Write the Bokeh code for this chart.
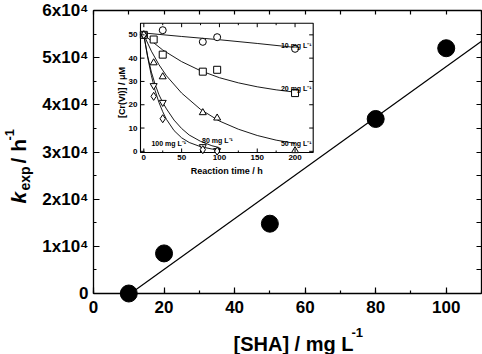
import math
from bokeh.plotting import figure
from bokeh.models import Range1d, LinearAxis, FixedTicker, Label
from bokeh.embed import file_html
from bokeh.resources import INLINE
from bokeh.core.properties import value

# ---------------- main data ----------------
sha = [10, 20, 50, 80, 100]                      # [SHA] / mg L-1
kexp = [0, 8500, 14800, 37000, 52000]            # k_exp / h-1
fit_x = [10.5, 110]                              # linear fit
fit_y = [0, 53500]
x_lim = (0, 110)
y_lim = (0, 60000)
x_ticks = [0, 20, 40, 60, 80, 100]
x_minor = [0, 10, 20, 30, 40, 50, 60, 70, 80, 90, 100, 110]
y_ticks = [0, 10000, 20000, 30000, 40000, 50000, 60000]
y_minor = [0, 5000, 10000, 15000, 20000, 25000, 30000, 35000, 40000, 45000, 50000, 55000, 60000]
y_tick_labels = ["0", "1x10\u2074", "2x10\u2074", "3x10\u2074", "4x10\u2074", "5x10\u2074", "6x10\u2074"]

# ---------------- inset data ----------------
t_10 = [0, 25, 78, 97, 200];          c_10 = [50, 52, 47, 49, 44]
t_20 = [0, 13, 25, 78, 97, 200];      c_20 = [50, 48, 41.5, 34.2, 35, 25]
t_50 = [0, 13, 25, 78, 97, 200];      c_50 = [50, 38, 32, 16.6, 14.3, 0.3]
t_80 = [0, 13, 25, 78, 97];           c_80 = [50, 28.2, 21, 2.0, 0.3]
t_100 = [0, 13, 25, 78, 97];          c_100 = [50, 23.6, 14, 0.7, 0.1]

fit10_t = [0, 50, 100, 150, 200]
fit10_c = [50.8, 49.3, 47.9, 46.3, 44.6]
fit20_t = [0, 25, 50, 75, 100, 125, 150, 175, 200]
fit20_c = [50, 43.5, 38.5, 34.6, 31.6, 29.4, 27.7, 26.4, 25.4]
fit50_t = [0, 10, 20, 30, 50, 75, 100, 125, 150, 175, 200]
fit50_c = [50, 43, 37.2, 32.4, 25, 18, 13, 9.5, 6.8, 4.8, 3.4]
fit80_t = [0, 5, 10, 15, 20, 25, 30, 40, 50, 60, 75, 90, 100]
fit80_c = [50, 41, 34, 28.7, 24.3, 21, 18.2, 13.4, 9.8, 7, 4.3, 2.4, 1.6]
fit100_t = [0, 5, 10, 15, 20, 25, 30, 40, 50, 60, 75, 90, 100]
fit100_c = [50, 40.5, 32.5, 26, 21, 17, 13.7, 8.9, 5.8, 3.8, 2, 1, 0.6]

inset_x_lim = (-4.4, 224)
inset_y_lim = (-0.5, 55)
inset_xticks = [0, 50, 100, 150, 200]
inset_xminor = [25, 75, 125, 175]
inset_yticks = [0, 10, 20, 30, 40, 50]
inset_series_labels = ["10 mg L\u207b\u00b9", "20 mg L\u207b\u00b9", "50 mg L\u207b\u00b9",
                       "80 mg L\u207b\u00b9", "100 mg L\u207b\u00b9"]

FONT = "Liberation Sans"

# ---------------- canvas / frame geometry (pixels) ----------------
W, H = 482, 354
FL, FR, FT, FB = 93, 481, 10, 293            # main plot box in canvas pixels
sx = (FR - FL) / (x_lim[1] - x_lim[0])       # px per x unit
sy = (FB - FT) / (y_lim[1] - y_lim[0])       # px per y unit
XR = (x_lim[0] - FL / sx, x_lim[1] + (W - FR) / sx)
YR = (y_lim[0] - (H - FB) / sy, y_lim[1] + FT / sy)

def fx(px):
    return XR[0] + px / sx
def fy(py):
    return YR[1] - py / sy

p = figure(width=W, height=H, x_range=Range1d(*XR), y_range=Range1d(*YR),
           output_backend="svg", toolbar_location=None,
           x_axis_location=None, y_axis_location=None, min_border=0)
p.background_fill_color = "white"
p.border_fill_color = "white"
p.outline_line_color = None
p.xgrid.visible = False
p.ygrid.visible = False

def make_axis(ticks, minor, bounds, loc, labels=True, tick_in=6, minor_in=3):
    ax = LinearAxis(ticker=FixedTicker(ticks=ticks, minor_ticks=minor), bounds=bounds,
                    fixed_location=loc)
    ax.axis_line_color = "black"
    ax.axis_line_width = 1.3
    ax.major_tick_in = tick_in
    ax.major_tick_out = 0
    ax.minor_tick_in = minor_in
    ax.minor_tick_out = 0
    ax.major_tick_line_width = 1.2
    ax.minor_tick_line_width = 1.2
    if labels:
        ax.major_label_text_font = FONT
        ax.major_label_text_font_style = "bold"
        ax.major_label_text_font_size = "17px"
        ax.major_label_text_color = "black"
    else:
        ax.major_label_text_font_size = "0px"
        ax.major_label_standoff = 0
    return ax

xa = make_axis(x_ticks, x_minor, x_lim, y_lim[0])
xa.major_label_standoff = 7
p.add_layout(xa, "below")

ya = make_axis(y_ticks, y_minor, y_lim, x_lim[0])
ya.major_label_overrides = {t: l for t, l in zip(y_ticks, y_tick_labels)}
ya.major_label_standoff = 5
p.add_layout(ya, "left")

top = make_axis(x_minor, [], x_lim, y_lim[1], labels=False, tick_in=4)
p.add_layout(top, "above")
right = make_axis(y_minor, [], y_lim, x_lim[1], labels=False, tick_in=5)
p.add_layout(right, "right")

# main data
p.line(fit_x, fit_y, line_color="black", line_width=1.2)
p.scatter(sha, kexp, size=17, marker="circle", fill_color="black", line_color="black")

# ---------------- axis titles (pieces for sub/superscripts) ----------------
# (px, py) is the baseline point; the label is anchored at its vertical middle
def lab(text, px, py, size, style="bold", angle=0.0):
    off = 0.35 * size
    if angle:
        x, y = px - off, py
    else:
        x, y = px, py - off
    p.add_layout(Label(x=fx(x), y=fy(y), text=text, angle=angle,
                       text_font=FONT, text_font_style=style, text_font_size=f"{size}px",
                       text_color="black", text_align="left", text_baseline="middle"))

A = math.pi / 2
lab("k", 25, 203, 21, style="bold italic", angle=A)
lab("exp", 29, 190, 14, angle=A)
lab("/ h", 25, 163, 21, angle=A)
lab("-1", 14, 140, 13, angle=A)

lab("[SHA] / mg L", 233, 350, 20)
lab("-1", 351, 337, 13)

# ---------------- inset ----------------
IX, IY = inset_x_lim, inset_y_lim
IPL, IPR, IPT, IPB = 140, 312.7, 22.7, 152     # inset box in canvas pixels
ins = p.subplot(x_source=Range1d(*IX), y_source=Range1d(*IY),
                x_target=Range1d(fx(IPL), fx(IPR)), y_target=Range1d(fy(IPB), fy(IPT)))
ipx_x = (IPR - IPL) / (IX[1] - IX[0])
ipx_y = (IPB - IPT) / (IY[1] - IY[0])

ins.quad(left=[IX[0]], right=[IX[1]], bottom=[IY[0]], top=[IY[1]],
         fill_color="white", line_color="black", line_width=1.1)

for ft, fc in [(fit10_t, fit10_c), (fit20_t, fit20_c), (fit50_t, fit50_c),
               (fit80_t, fit80_c), (fit100_t, fit100_c)]:
    ins.line(ft, fc, line_color="black", line_width=0.9)

for t, c, m in [(t_10, c_10, "circle"), (t_20, c_20, "square"), (t_50, c_50, "triangle"),
                (t_80, c_80, "inverted_triangle"), (t_100, c_100, "diamond")]:
    ins.scatter(t, c, marker=m, size=7 if m != "diamond" else 8, fill_color="white",
                line_color="black", line_width=1)

# inset ticks (inward)
lx_major = 4 / ipx_y
lx_minor = 2 / ipx_y
ly_major = 4 / ipx_x
def n(v, k):
    return [v] * k
ins.segment(x0=inset_xticks, y0=n(IY[0], 5), x1=inset_xticks, y1=n(IY[0] + lx_major, 5),
            line_color="black", line_width=1)
ins.segment(x0=inset_xticks, y0=n(IY[1], 5), x1=inset_xticks, y1=n(IY[1] - lx_major, 5),
            line_color="black", line_width=1)
ins.segment(x0=inset_xminor, y0=n(IY[0], 4), x1=inset_xminor, y1=n(IY[0] + lx_minor, 4),
            line_color="black", line_width=1)
ins.segment(x0=inset_xminor, y0=n(IY[1], 4), x1=inset_xminor, y1=n(IY[1] - lx_minor, 4),
            line_color="black", line_width=1)
ins.segment(x0=n(IX[0], 6), y0=inset_yticks, x1=n(IX[0] + ly_major, 6), y1=inset_yticks,
            line_color="black", line_width=1)
ins.segment(x0=n(IX[1], 6), y0=inset_yticks, x1=n(IX[1] - ly_major, 6), y1=inset_yticks,
            line_color="black", line_width=1)

# inset tick labels
ins.text(x=inset_xticks, y=n(IY[0] - 2 / ipx_y, 5), text=[str(v) for v in inset_xticks],
         text_font=value(FONT), text_font_style="bold", text_font_size="8px",
         text_align="center", text_baseline="top", text_color="black")
ins.text(x=n(IX[0] - 3 / ipx_x, 6), y=inset_yticks, text=[str(v) for v in inset_yticks],
         text_font=value(FONT), text_font_style="bold", text_font_size="8px",
         text_align="right", text_baseline="middle", text_color="black")

# inset titles
ins.text(x=[(IX[0] + IX[1]) / 2], y=[IY[0] - 18 / ipx_y], text=["Reaction time / h"],
         text_font=value(FONT), text_font_style="bold", text_font_size="9px",
         text_align="center", text_baseline="middle", text_color="black")
ins.text(x=[IX[0] - 19 / ipx_x], y=[(IY[0] + IY[1]) / 2 - 2], text=["[Cr(VI)] / \u03bcM"], angle=A,
         text_font=value(FONT), text_font_style="bold", text_font_size="9px",
         text_align="center", text_baseline="middle", text_color="black")

# inset series labels
ins.text(x=[222, 222, 222], y=[45.3, 26.9, 3.4], text=inset_series_labels[:3],
         text_font=value(FONT), text_font_style="bold", text_font_size="7px",
         text_align="right", text_baseline="alphabetic", text_color="black")
ins.text(x=[77, 10], y=[4.5, 3.4], text=inset_series_labels[3:],
         text_font=value(FONT), text_font_style="bold", text_font_size="7px",
         text_align="left", text_baseline="alphabetic", text_color="black")

open("out.html", "w").write(file_html(p, INLINE))
